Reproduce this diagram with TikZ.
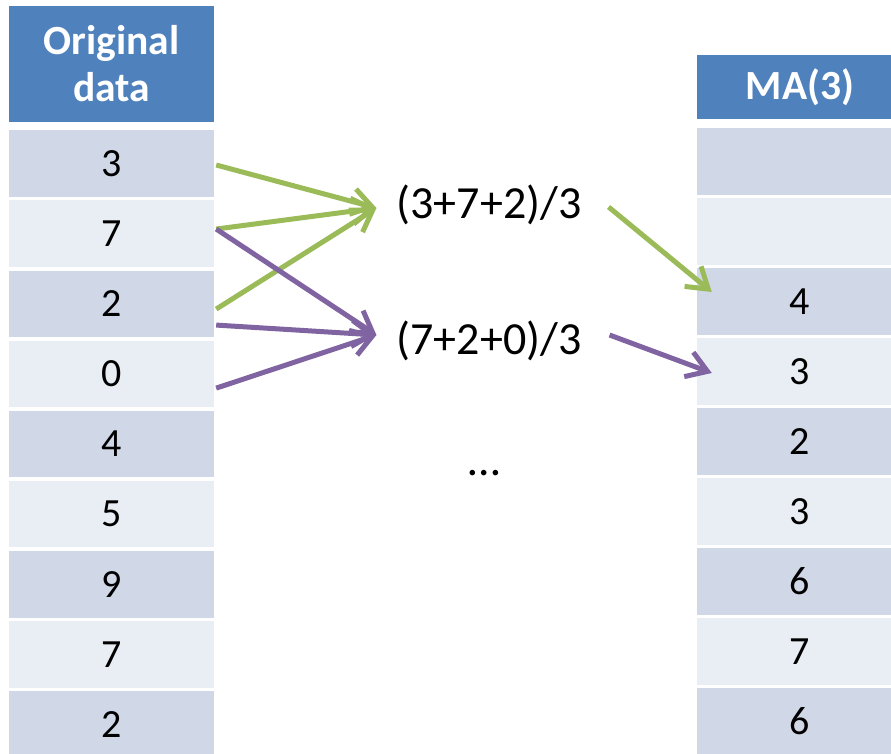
\documentclass[tikz,border=0pt]{standalone}
\usepackage{fontspec}
\setmainfont{Carlito}
\usetikzlibrary{arrows.meta}
\definecolor{hdrblue}{HTML}{4F81BD}
\definecolor{rowdark}{HTML}{D0D8E8}
\definecolor{rowlight}{HTML}{E9EDF4}
\definecolor{avggreen}{HTML}{9BBB59}
\definecolor{avgpurple}{HTML}{8064A2}
\begin{document}
\begin{tikzpicture}[x=1pt,y=-1pt,
  cell/.style={minimum height=66.5pt, inner sep=0pt, font=\fontsize{40}{48}\selectfont},
  lcell/.style={cell, minimum width=205pt},
  rcell/.style={cell, minimum width=206pt},
  hdr/.style={fill=hdrblue, text=white, align=center, inner sep=0pt,
              font=\bfseries\fontsize{41.5}{47}\selectfont},
  expr/.style={inner sep=0pt, font=\fontsize{46}{54}\selectfont},
  link/.style={line width=5pt, -{Straight Barb[length=20pt,width=26pt]},
               preaction={draw=black, opacity=0.15,
                          transform canvas={xshift=1.5pt,yshift=-1.5pt}}},
  ]
\useasboundingbox (0,0) rectangle (891,754);
\clip (0,0) rectangle (891,754);

% left column: original series
\node[hdr, minimum width=205pt, minimum height=116pt] (lh) at (111.5,64) {Original\\data};
\foreach \v/\c [count=\i] in {3/rowdark,7/rowlight,2/rowdark,0/rowlight,4/rowdark,
                              5/rowlight,9/rowdark,7/rowlight,2/rowdark}
  \node[lcell, fill=\c] (l\i) at (111.5,{163.5+70.14*(\i-1)}) {\v};

% right column: moving average of order 3
\node[hdr, minimum width=206pt, minimum height=64pt] (rh) at (800,87) {MA(3)};
\foreach \v/\c [count=\i] in {/rowdark,/rowlight,4/rowdark,3/rowlight,2/rowdark,
                              3/rowlight,6/rowdark,7/rowlight,6/rowdark}
  \node[rcell, fill=\c] (r\i) at (800,{161.5+70*(\i-1)}) {\v};

% averaging expressions
\node[expr] (e1) at (489,205) {(3+7+2)/3};
\node[expr] (e2) at (489,341) {(7+2+0)/3};
\node[expr] (dots) at (484,473) {…};

% tips where the arrows meet
\coordinate (g) at ([xshift=-20pt,yshift=-3pt]e1.west);
\coordinate (p) at ([xshift=-20pt,yshift=6pt]e2.west);

% first window
\draw[link, avggreen] ([xshift=2pt,yshift=-1.5pt]l1.east) -- (g);
\draw[link, avggreen] ([xshift=2pt,yshift=4.6pt]l2.east) -- (g);
\draw[link, avggreen] ([xshift=2pt,yshift=-5.3pt]l3.east) -- (g);
% second window
\draw[link, avgpurple] ([xshift=2pt,yshift=4.6pt]l2.east) -- (p);
\draw[link, avgpurple] ([xshift=2pt,yshift=-21.3pt]l3.east) -- (p);
\draw[link, avgpurple] ([xshift=2pt,yshift=-14.2pt]l4.east) -- (p);

% results into the MA column
\draw[link, avggreen] ([xshift=27pt,yshift=-2pt]e1.east) -- ([xshift=15pt,yshift=9.5pt]r3.west);
\draw[link, avgpurple] ([xshift=28pt,yshift=6pt]e2.east) -- ([xshift=15pt,yshift=-1.5pt]r4.west);
\end{tikzpicture}
\end{document}
